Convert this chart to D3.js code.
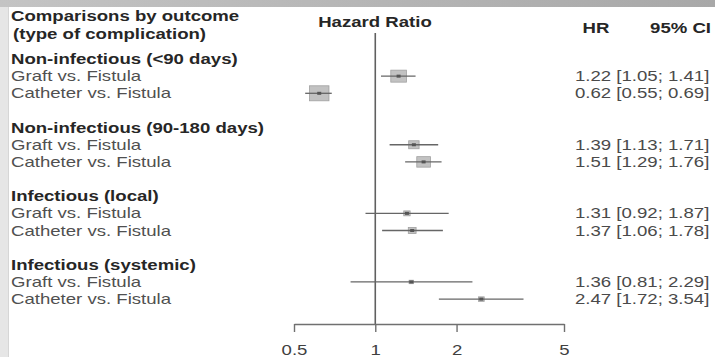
<!DOCTYPE html>
<html><head><meta charset="utf-8">
<script src="https://cdn.jsdelivr.net/npm/d3@7/dist/d3.min.js"></script>
<style>html,body{margin:0;padding:0;background:#fff;}svg{display:block;}</style>
</head><body>
<svg id="c" width="715" height="357"></svg>
<script>
// ---- data ----
const groups = ["Non-infectious (<90 days)", "Non-infectious (90-180 days)", "Infectious (local)", "Infectious (systemic)"];
const comparisons = ["Graft vs. Fistula", "Catheter vs. Fistula"];
const hr    = [1.22, 0.62, 1.39, 1.51, 1.31, 1.37, 1.36, 2.47];
const lower = [1.05, 0.55, 1.13, 1.29, 0.92, 1.06, 0.81, 1.72];
const upper = [1.41, 0.69, 1.71, 1.76, 1.87, 1.78, 2.29, 3.54];
const weights = [144, 225, 64, 110, 24, 36, 12, 20];
const tickValues = [0.5, 1, 2, 5];
const tickLabels = ["0.5", "1", "2", "5"];

// ---- layout ----
const svg = d3.select("#c");
const W = 715, H = 357;
const SX = 1.3; // horizontal stretch of the reference picture
const FONT = "'Liberation Sans', Arial, sans-serif";
const FS = 14.3;

svg.append("rect").attr("x",0).attr("y",0).attr("width",W).attr("height",H).attr("fill","#fff");
svg.append("rect").attr("x",0).attr("y",0).attr("width",8).attr("height",H).attr("fill","#e6e6e6");
svg.append("line").attr("x1",8.5).attr("x2",8.5).attr("y1",0).attr("y2",H).attr("stroke","#d6d6d6");
const grad = svg.append("defs").append("linearGradient").attr("id","tg");
grad.append("stop").attr("offset","0").attr("stop-color","#c4c4c4");
grad.append("stop").attr("offset","1").attr("stop-color","#a8a8a8");
svg.append("rect").attr("x",0).attr("y",0).attr("width",W).attr("height",7).attr("fill","url(#tg)");

const x = d3.scaleLog().domain([0.5, 5]).range([294, 564]);
const rowY0 = 64, pitch = 17.15;
const rowBase = k => rowY0 + pitch * k;

function txt(str, xx, yy, opts) {
  opts = opts || {};
  const t = svg.append("text")
    .attr("transform", `translate(${xx},${yy}) scale(${SX},1)`)
    .attr("font-family", FONT)
    .attr("font-size", opts.fs || FS)
    .attr("font-weight", opts.bold ? "bold" : "normal")
    .attr("fill", opts.fill || (opts.bold ? "#262626" : "#505050"))
    .attr("text-anchor", opts.anchor || "start")
    .text(str);
  return t;
}

// headers
txt("Comparisons by outcome", 11, 21, {bold:true});
txt("(type of complication)", 13, 39, {bold:true});
txt("Hazard Ratio", 375, 27, {bold:true, anchor:"middle"});
txt("HR", 596, 33, {bold:true, anchor:"middle"});
txt("95% CI", 711, 33, {bold:true, anchor:"end"});

// rows
const rows = [];
groups.forEach((g, gi) => {
  const base = gi * 4;
  txt(g, 11, rowBase(base), {bold:true});
  comparisons.forEach((c, ci) => {
    const i = gi * 2 + ci;
    const k = base + 1 + ci;
    txt(c, 11, rowBase(k));
    rows.push({i, y: rowBase(k) - 5});
    txt(d3.format(".2f")(hr[i]) + " [" + d3.format(".2f")(lower[i]) + "; " + d3.format(".2f")(upper[i]) + "]", 575, rowBase(k), {fill:"#4a4a4a"});
  });
});

// reference line at HR = 1
svg.append("line")
  .attr("x1", x(1)).attr("x2", x(1))
  .attr("y1", 33).attr("y2", 324)
  .attr("stroke", "#606060").attr("stroke-width", 1.6);

// axis
const axis = d3.axisBottom(x).tickValues(tickValues).tickFormat((d,i) => tickLabels[i]).tickSize(8).tickSizeOuter(0);
const ag = svg.append("g").attr("transform", "translate(0,324)").call(axis);
ag.select(".domain").attr("stroke", "#707070").attr("stroke-width", 1.4);
ag.selectAll(".tick line").attr("stroke", "#707070").attr("stroke-width", 1.4);
ag.selectAll(".tick text")
  .attr("font-family", FONT).attr("font-size", FS).attr("fill", "#404040")
  .attr("y", 0).attr("dy", 0)
  .attr("transform", `translate(0,31) scale(${SX},1)`);

// boxes and CIs
const size = d3.scaleSqrt().domain([0, d3.max(weights)]).range([0, 15]);
rows.forEach(r => {
  const i = r.i;
  const h = Math.max(3, size(weights[i]));
  const w = h * SX;
  svg.append("rect")
    .attr("x", x(hr[i]) - w/2).attr("y", r.y - h/2)
    .attr("width", w).attr("height", h)
    .attr("fill", "#c2c2c2").attr("stroke", "#a0a0a0").attr("stroke-width", 0.8);
  svg.append("line")
    .attr("x1", x(lower[i])).attr("x2", x(upper[i]))
    .attr("y1", r.y).attr("y2", r.y)
    .attr("stroke", "#666").attr("stroke-width", 1.3);
  svg.append("rect")
    .attr("x", x(hr[i]) - 2).attr("y", r.y - 1.5)
    .attr("width", 4).attr("height", 3)
    .attr("fill", "#555");
});
</script>
</body></html>
